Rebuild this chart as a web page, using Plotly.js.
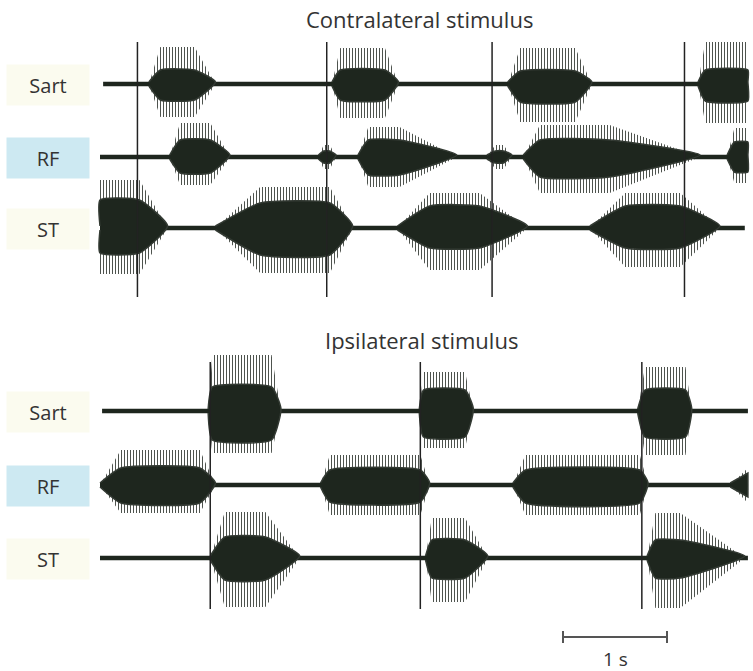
<!DOCTYPE html>
<html>
<head>
<meta charset="utf-8">
<script src="https://cdn.plot.ly/plotly-3.0.1.min.js"></script>
<style>html,body{margin:0;padding:0;background:#fff;}#chart{width:753px;height:671px;}</style>
</head>
<body>
<div id="chart"></div>
<script>
// ---------------- DATA (times in s, amplitudes in a.u.) ----------------
const panelTitles = ["Contralateral stimulus", "Ipsilateral stimulus"];
const muscleLabels = ["Sart", "RF", "ST"];

// stimulus marker times (s)
const contraMarkers = [0.36, 2.18, 3.77, 5.62];
const ipsiMarkers = [1.06, 3.08, 5.21];

// recording spans [start, end] (s) for Sart, RF, ST
const contraSpans = [[0.03, 6.23], [0.0, 6.23], [0.0, 6.20]];
const ipsiSpans = [[0.02, 6.23], [0.0, 6.23], [0.0, 6.23]];

// bursts: [onset, plateau start, plateau end, offset, core up, core down, spike up, spike down]
const contraSart = [
  [0.47, 0.58, 0.91, 1.11, 14, 16, 37, 33],
  [2.23, 2.31, 2.74, 2.87, 14, 16, 36, 34],
  [3.92, 4.04, 4.57, 4.73, 13, 18, 36, 38],
  [5.75, 5.82, 6.23, 6.23, 14, 17, 42, 39]
];
const contraRF = [
  [0.67, 0.77, 1.06, 1.25, 17, 16, 34, 28],
  [2.10, 2.15, 2.21, 2.27, 6, 6, 12, 12],
  [2.48, 2.58, 2.88, 3.43, 17, 18, 30, 30],
  [3.72, 3.80, 3.88, 3.96, 6, 6, 12, 12],
  [4.07, 4.23, 4.90, 5.77, 17, 20, 32, 36],
  [6.03, 6.10, 6.23, 6.23, 15, 15, 29, 26]
];
const contraST = [
  [0.00, 0.00, 0.38, 0.65, 28, 25, 48, 46],
  [1.11, 1.54, 2.21, 2.43, 25, 27, 41, 45],
  [2.86, 3.17, 3.65, 4.11, 22, 20, 35, 42],
  [4.71, 5.05, 5.58, 5.96, 22, 20, 35, 39]
];
const ipsiSart = [
  [1.04, 1.08, 1.65, 1.74, 24, 29, 56, 42],
  [3.07, 3.11, 3.51, 3.59, 21, 26, 39, 37],
  [5.17, 5.24, 5.63, 5.69, 21, 26, 44, 44]
];
const ipsiRF = [
  [0.00, 0.20, 0.96, 1.11, 17, 18, 35, 28],
  [2.12, 2.21, 3.08, 3.17, 15, 17, 30, 30],
  [3.97, 4.09, 5.19, 5.27, 15, 18, 30, 30],
  [6.06, 6.23, 6.23, 6.23, 12, 12, 17, 18]
];
const ipsiST = [
  [1.06, 1.20, 1.59, 1.92, 21, 22, 46, 49],
  [3.13, 3.19, 3.51, 3.73, 18, 20, 40, 44],
  [5.26, 5.34, 5.58, 6.20, 18, 20, 45, 50]
];
const scaleBarSeconds = 1;
const scaleBarLabel = "1 s";

// ---------------- LAYOUT CONSTANTS ----------------
const W = 753, H = 671;
const PX_PER_S = 104, X0 = 100;
const xRange = [-X0 / PX_PER_S, (W - X0) / PX_PER_S];
const contraBase = [84, 157, 228];
const ipsiBase = [411, 485, 558];
const contraMarkY = [42, 297];
const ipsiMarkY = [362, 609];
const INK = "#1e261e";

const traces = [];

function addRow(bursts, span, base) {
  // spike envelopes (vertical-stroke pattern)
  bursts.forEach(b => {
    const [on, ps, pe, off, cu, cd, su, sd] = b;
    traces.push({
      type: "scatter", mode: "lines",
      x: [on, ps, pe, off, pe, ps, on],
      y: [base, base - su, base - su, base, base + sd, base + sd, base],
      fill: "toself", line: {width: 0},
      fillcolor: "rgba(0,0,0,0)",
      fillpattern: {shape: "|", size: 3, solidity: 0.3, fgcolor: "#3a403a", bgcolor: "rgba(255,255,255,0)"},
      hoverinfo: "skip"
    });
  });
  // baseline
  traces.push({
    type: "scatter", mode: "lines", x: span, y: [base, base],
    line: {color: INK, width: 4.5}, hoverinfo: "skip"
  });
  // dense core
  bursts.forEach(b => {
    const [on, ps, pe, off, cu, cd] = b;
    traces.push({
      type: "scatter", mode: "lines",
      x: [on, ps, pe, off, pe, ps, on],
      y: [base - 2, base - cu, base - cu, base - 2, base + cd, base + cd, base + 2],
      fill: "toself", fillcolor: INK,
      line: {width: 1.5, color: "#333a33", shape: "spline", smoothing: 0.5},
      hoverinfo: "skip"
    });
  });
}

[contraSart, contraRF, contraST].forEach((b, i) => addRow(b, contraSpans[i], contraBase[i]));
[ipsiSart, ipsiRF, ipsiST].forEach((b, i) => addRow(b, ipsiSpans[i], ipsiBase[i]));

function addMarkers(times, yr) {
  times.forEach(t => traces.push({
    type: "scatter", mode: "lines", x: [t, t], y: yr,
    line: {color: "#222", width: 1.5}, hoverinfo: "skip"
  }));
}
addMarkers(contraMarkers, contraMarkY);
addMarkers(ipsiMarkers, ipsiMarkY);

// scale bar
const sbStart = (563 - X0) / PX_PER_S, sbY = 637;
traces.push({
  type: "scatter", mode: "lines",
  x: [sbStart, sbStart, sbStart, sbStart + scaleBarSeconds, sbStart + scaleBarSeconds, sbStart + scaleBarSeconds],
  y: [sbY - 6, sbY + 6, sbY, sbY, sbY - 6, sbY + 6],
  line: {color: "#555", width: 2}, hoverinfo: "skip"
});

const FONT = "'Open Sans', Roboto, sans-serif";
const annotations = [];
function ann(px, py, text, size, extra) {
  annotations.push(Object.assign({
    xref: "paper", yref: "paper", x: px / W, y: 1 - py / H,
    xanchor: "center", yanchor: "middle", text: text, showarrow: false,
    font: {family: FONT, size: size, color: "#333333"}
  }, extra || {}));
}
ann(420, 19, panelTitles[0], 22);
ann(422, 340, panelTitles[1], 22);

const labelBg = ["#fbfbef", "#cde9f2", "#fbfbef"];
function addLabels(bases) {
  bases.forEach((yb, i) => ann(48, yb + 1, muscleLabels[i], 20,
    {width: 80, height: 38, bgcolor: labelBg[i]}));
}
addLabels(contraBase);
addLabels(ipsiBase);
ann(615, 659, scaleBarLabel, 19);

const layout = {
  width: W, height: H, margin: {l: 0, r: 0, t: 0, b: 0},
  paper_bgcolor: "#fff", plot_bgcolor: "#fff", showlegend: false,
  xaxis: {range: xRange, visible: false, fixedrange: true},
  yaxis: {range: [H, 0], visible: false, fixedrange: true},
  annotations: annotations
};
Plotly.newPlot("chart", traces, layout, {staticPlot: true, displayModeBar: false});
</script>
</body>
</html>
